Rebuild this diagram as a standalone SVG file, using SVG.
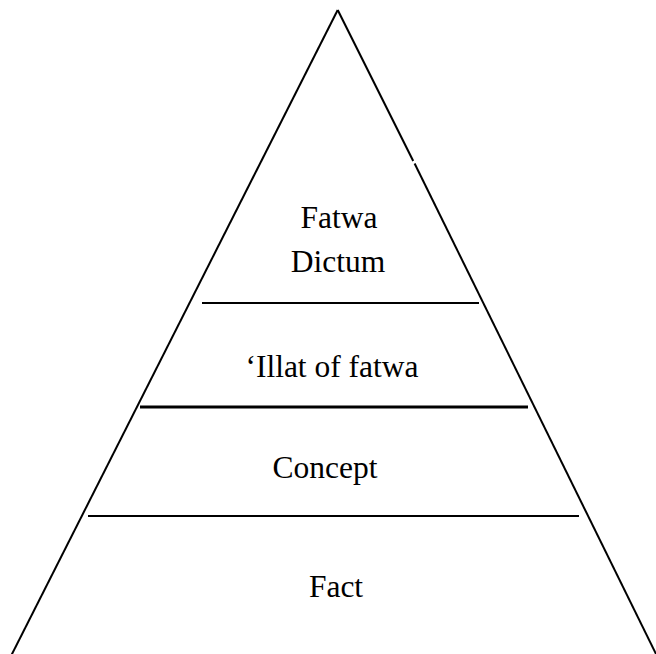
<svg xmlns="http://www.w3.org/2000/svg" width="656" height="654" viewBox="0 0 656 654">
<style>
.ln{stroke:#000;fill:none;stroke-width:2;stroke-linecap:butt}
.t{font-family:"Liberation Serif","Times New Roman",serif;font-size:31.5px;fill:#000;text-anchor:middle}
</style>
<rect width="656" height="654" fill="#fff"/>
<g id="connectors">
<line class="ln" x1="337.7" y1="10" x2="11" y2="656"/>
<line class="ln" x1="337.7" y1="10" x2="413.2" y2="161"/>
<line class="ln" x1="414.6" y1="163.5" x2="657" y2="656"/>
<line class="ln" x1="202" y1="303" x2="479" y2="303"/>
<line class="ln" x1="140" y1="407" x2="528" y2="407" style="stroke-width:3"/>
<line class="ln" x1="88" y1="516" x2="579" y2="516"/>
</g>
<g id="fatwa-dictum"><text class="t" x="339" y="228">Fatwa</text><text class="t" x="338" y="272">Dictum</text></g>
<g id="illat"><text class="t" x="332" y="377">‘Illat of fatwa</text></g>
<g id="concept"><text class="t" x="325" y="478">Concept</text></g>
<g id="fact"><text class="t" x="336" y="597">Fact</text></g>
</svg>
